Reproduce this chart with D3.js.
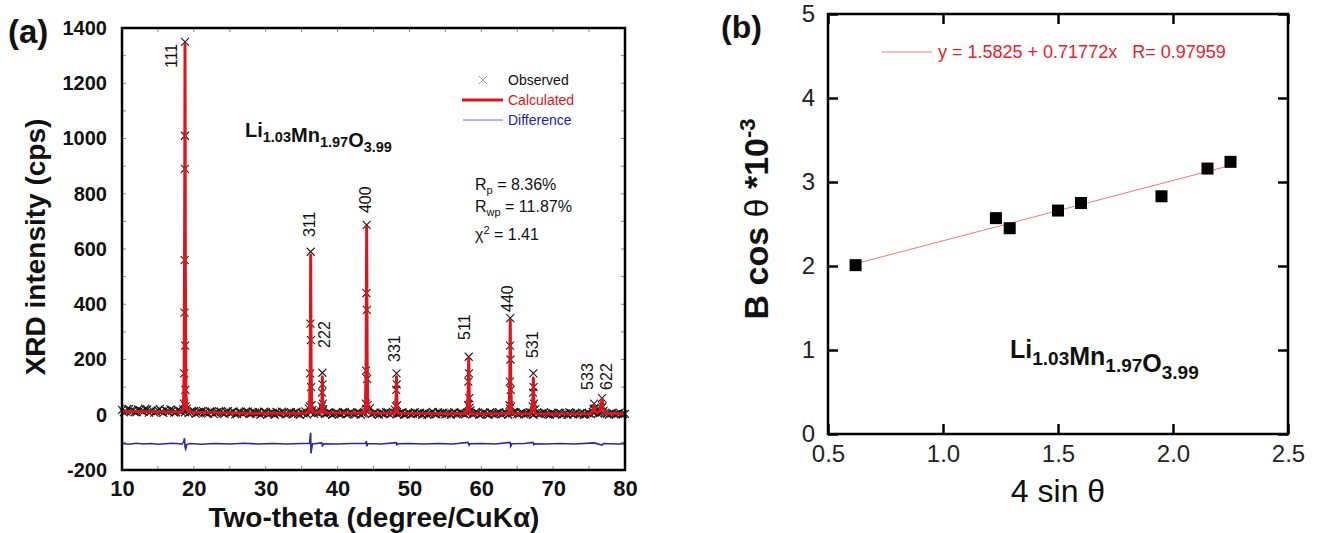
<!DOCTYPE html>
<html>
<head>
<meta charset="utf-8">
<script src="https://cdn.jsdelivr.net/npm/d3@7"></script>
<style>
  body { margin: 0; background: #fff; }
  svg { display: block; }
</style>
</head>
<body>
<div id="chart"></div>
<script>
// ---- panel (a): Rietveld refinement data ----
const obsStart = 10, obsStep = 0.5;
// observed background intensities, one every 0.5 degree from 10 to 80
const obsBase = [
  18, 12, 20, 14, 9, 17, 11, 19, 13, 8,
  16, 12, 18, 10, 15, 9, 14, 20, 22, 10,
  13, 7, 12, 9, 4, 11, 8, 13, 5, 10,
  6, 12, 3, 9, 7, 11, 4, 8, 10, 5,
  9, 3, 7, 10, 4, 8, 2, 9, 6, 3,
  8, 12, 22, 18, 10, 7, 20, 5, 8, 3,
  6, 2, 9, 4, 7, 1, 8, 5, 20, 24,
  6, 3, 8, 2, 7, 5, 18, 4, 9, 1,
  7, 4, 2, 8, 5, 0, 6, 3, 9, 4,
  1, 7, 5, 2, 8, 4, 6, 16, 3, 7,
  2, 8, 0, 5, 3, 9, 4, 6, 22, 10,
  3, 7, 1, 5, 8, 20, 2, 6, 4, 0,
  5, 2, 7, 3, 0, 6, 4, 1, 8, 2,
  5, 10, 16, 6, 14, 3, 4, 2, 5, 1,
  3
];
// second scan pass, offset by a quarter degree (10.25 ... 79.75)
const obsBase2 = [
  9, 21, 15, 10, 19, 13, 22, 8, 16, 11,
  20, 7, 13, 19, 8, 17, 11, 9, 6, 15,
  4, 10, 14, 6, 12, 2, 9, 11, 3, 13,
  8, 1, 10, 5, 12, 2, 9, 6, 0, 11,
  3, 8, 0, 6, 11, 1, 7, 4, 10, 0,
  5, 1, 9, 3, 6, 11, 2, 9, 0, 7,
  3, 10, 1, 8, 2, 9, 0, 6, 11, 2,
  8, 0, 5, 10, 1, 8, 3, 7, 0, 6,
  2, 9, 5, 0, 7, 3, 10, 1, 6, 8,
  4, 0, 9, 3, 6, 1, 8, 2, 10, 0,
  7, 3, 9, 1, 6, 2, 8, 0, 5, 9,
  1, 6, 3, 9, 0, 7, 4, 9, 1, 6,
  2, 8, 0, 5, 9, 1, 7, 3, 0, 6,
  2, 8, 4, 9, 7, 0, 6, 1, 8, 2
];
// observed points on the Bragg peaks [2theta, intensity]
const obsPeaks = [
  [18.62, 40], [18.66, 150], [18.70, 370], [18.72, 560], [18.74, 890], [18.76, 1010], [18.77, 1350], [18.79, 250], [18.82, 90], [18.86, 30],
  [36.14, 30], [36.18, 150], [36.22, 330], [36.26, 590], [36.29, 270], [36.32, 100], [36.38, 35],
  [37.80, 30], [37.84, 80], [37.88, 152], [37.91, 110], [37.95, 40],
  [43.92, 40], [43.97, 160], [44.01, 440], [44.05, 687], [44.08, 380], [44.12, 130], [44.18, 35],
  [48.12, 30], [48.16, 90], [48.20, 150], [48.23, 110], [48.28, 35],
  [58.15, 35], [58.20, 120], [58.25, 210], [58.28, 150], [58.33, 60], [58.38, 25],
  [63.92, 35], [63.97, 120], [64.00, 250], [64.03, 350], [64.06, 200], [64.10, 90], [64.16, 30],
  [67.15, 30], [67.20, 80], [67.25, 150], [67.28, 100], [67.33, 40],
  [75.62, 20], [75.70, 40], [75.78, 22],
  [76.72, 25], [76.80, 60], [76.88, 30]
];
// calculated profile [2theta, intensity]
const calcProfile = [
  [10, 14], [12, 12], [14, 11], [16, 10], [18.4, 10],
  [18.55, 25], [18.65, 160], [18.72, 700], [18.77, 1340], [18.82, 520], [18.9, 80], [19.0, 22], [19.2, 12],
  [20, 9], [25, 6], [30, 5], [35, 5], [36.0, 8],
  [36.12, 40], [36.2, 200], [36.26, 578], [36.32, 180], [36.4, 30], [36.55, 9],
  [37.6, 8], [37.78, 25], [37.84, 70], [37.88, 138], [37.93, 60], [38.0, 15], [38.2, 7],
  [43.7, 5], [43.88, 30], [43.98, 200], [44.05, 680], [44.12, 190], [44.22, 25], [44.4, 6],
  [47.9, 5], [48.08, 22], [48.15, 70], [48.2, 138], [48.25, 60], [48.33, 12], [48.5, 5],
  [57.9, 4], [58.08, 25], [58.18, 90], [58.25, 205], [58.32, 80], [58.42, 15], [58.6, 4],
  [63.7, 4], [63.88, 25], [63.97, 130], [64.03, 343], [64.1, 120], [64.2, 20], [64.4, 4],
  [66.9, 4], [67.08, 20], [67.18, 60], [67.25, 133], [67.32, 55], [67.42, 12], [67.6, 4],
  [70, 3], [75.3, 4], [75.55, 15], [75.7, 35], [75.85, 12], [76.2, 7],
  [76.6, 18], [76.8, 57], [77.0, 15], [77.3, 5], [80, 3]
];
// difference curve (observed - calculated, offset)
const diffProfile = [
  [10, -104], [11, -107], [12, -103], [13, -106], [14, -104], [15, -107], [16, -105], [17, -103],
  [18.4, -106], [18.6, -96], [18.7, -85], [18.78, -118], [18.86, -124], [19.0, -108], [19.5, -104],
  [21, -107], [23, -104], [25, -106], [27, -103], [29, -106], [31, -104], [33, -106], [35, -104],
  [36.1, -103], [36.2, -75], [36.26, -65], [36.3, -140], [36.36, -128], [36.5, -106],
  [37.8, -102], [37.9, -112], [38.1, -105], [40, -106], [42, -104],
  [43.9, -104], [44.0, -95], [44.08, -114], [44.2, -104], [46, -106],
  [48.15, -101], [48.25, -109], [48.4, -105], [50, -104], [52, -106], [54, -104], [56, -106],
  [58.15, -100], [58.3, -110], [58.4, -105], [60, -104], [62, -106],
  [64.0, -100], [64.1, -114], [64.25, -105], [66, -104],
  [67.2, -100], [67.3, -108], [67.45, -105], [69, -106], [71, -104], [73, -106],
  [75.7, -102], [76.8, -110], [77, -104], [79, -106], [80, -105]
];
// hkl labels: [label, 2theta of label centre, intensity at label foot]
const hklLabels = [
  ['111', 16.96, 1255], ['311', 36.16, 643], ['222', 38.25, 242], ['400', 43.95, 730],
  ['331', 47.99, 191], ['511', 57.73, 271], ['440', 63.72, 372], ['531', 67.2, 205],
  ['533', 74.85, 90], ['622', 77.5, 90]
];
const xTicksA = [10, 20, 30, 40, 50, 60, 70, 80];
const yTicksA = [-200, 0, 200, 400, 600, 800, 1000, 1200, 1400];

// ---- panel (b): Williamson-Hall plot ----
const fourSinTheta = [0.62, 1.23, 1.29, 1.50, 1.60, 1.95, 2.15, 2.25];
const bCosTheta = [2.01, 2.57, 2.45, 2.66, 2.75, 2.83, 3.16, 3.24];
const fitIntercept = 1.5825, fitSlope = 0.71772, fitR = 0.97959;
const xTicksB = [0.5, 1.0, 1.5, 2.0, 2.5];
const yTicksB = [0, 1, 2, 3, 4, 5];

const FONT = '"Liberation Sans", Arial, sans-serif';

const svg = d3.select('#chart').append('svg')
  .attr('width', 1319).attr('height', 533)
  .style('font-family', FONT);

function formula(g, x, y, mainSize, subSize, subDy) {
  const parts = [['Li', '1.03'], ['Mn', '1.97'], ['O', '3.99']];
  const t = g.append('text').attr('x', x).attr('y', y)
    .attr('font-weight', 'bold').attr('fill', '#111');
  parts.forEach(([el, n]) => {
    t.append('tspan').attr('font-size', mainSize).attr('dy', 0).text(el);
    t.append('tspan').attr('font-size', subSize).attr('dy', subDy).text(n);
    t.append('tspan').attr('font-size', mainSize).attr('dy', -subDy).text('');
  });
  return t;
}

// ================= panel (a) =================
const xa = d3.scaleLinear().domain([10, 80]).range([122, 625]);
const ya = d3.scaleLinear().domain([-200, 1400]).range([470, 28]);
const ga = svg.append('g');

// minor inside ticks
const minor = ga.append('g').attr('stroke', '#888').attr('stroke-width', 1);
d3.range(-100, 1400, 100).forEach(v => {
  minor.append('line').attr('x1', xa(10)).attr('x2', xa(10) + 4).attr('y1', ya(v)).attr('y2', ya(v));
  minor.append('line').attr('x1', xa(80)).attr('x2', xa(80) - 4).attr('y1', ya(v)).attr('y2', ya(v));
});
d3.range(15, 80, 5).forEach(v => {
  minor.append('line').attr('x1', xa(v)).attr('x2', xa(v)).attr('y1', ya(-200)).attr('y2', ya(-200) - 4);
  minor.append('line').attr('x1', xa(v)).attr('x2', xa(v)).attr('y1', ya(1400)).attr('y2', ya(1400) + 4);
});

// observed markers
const obsPts = obsBase.map((v, i) => [obsStart + i * obsStep, v])
  .concat(obsBase2.map((v, i) => [obsStart + obsStep / 2 + i * obsStep, v]))
  .concat(obsPeaks);
const cross = 'M-4,-4L4,4M-4,4L4,-4';
ga.append('g').selectAll('path').data(obsPts).enter().append('path')
  .attr('d', cross)
  .attr('transform', d => `translate(${xa(d[0])},${ya(d[1])})`)
  .attr('stroke', '#1a1a1a').attr('stroke-width', 1.1).attr('fill', 'none');

// calculated
const lineA = d3.line().x(d => xa(d[0])).y(d => ya(d[1]));
ga.append('path').datum(calcProfile).attr('d', lineA)
  .attr('fill', 'none').attr('stroke', '#e0141c').attr('stroke-width', 3)
  .attr('stroke-linejoin', 'round');
// difference
ga.append('path').datum(diffProfile).attr('d', lineA)
  .attr('fill', 'none').attr('stroke', '#2a2aa8').attr('stroke-width', 1.6);

// frame
ga.append('rect').attr('x', 122).attr('y', 28).attr('width', 503).attr('height', 442)
  .attr('fill', 'none').attr('stroke', '#000').attr('stroke-width', 2.5);

// tick labels
const axYA = ga.append('g').attr('transform', `translate(${xa(10)},0)`)
  .call(d3.axisLeft(ya).tickValues(yTicksA).tickSize(0).tickPadding(15).tickFormat(d => String(d)));
axYA.select('.domain').remove();
axYA.selectAll('text').attr('font-size', 20).attr('font-weight', 'bold').attr('fill', '#111')
  .style('font-family', FONT);
const axXA = ga.append('g').attr('transform', `translate(0,${ya(-200)})`)
  .call(d3.axisBottom(xa).tickValues(xTicksA).tickSize(0).tickPadding(10).tickFormat(d => String(d)));
axXA.select('.domain').remove();
axXA.selectAll('text').attr('font-size', 22).attr('font-weight', 'bold').attr('fill', '#111')
  .style('font-family', FONT);

// axis titles
ga.append('text').attr('transform', 'translate(45,247) rotate(-90)')
  .attr('text-anchor', 'middle').attr('font-size', 28).attr('font-weight', 'bold').attr('fill', '#111')
  .text('XRD intensity (cps)');
ga.append('text').attr('x', 374).attr('y', 527)
  .attr('text-anchor', 'middle').attr('font-size', 28).attr('font-weight', 'bold').attr('fill', '#111')
  .text('Two-theta (degree/CuK\u03b1)');

// panel tag
svg.append('text').attr('x', 8).attr('y', 43).attr('font-size', 33).attr('font-weight', 'bold')
  .attr('fill', '#111').text('(a)');

// hkl labels
ga.append('g').selectAll('text').data(hklLabels).enter().append('text')
  .attr('transform', d => `translate(${xa(d[1]) + 5},${ya(d[2])}) rotate(-90)`)
  .attr('font-size', 16).attr('fill', '#111').text(d => d[0]);

// legend
const lg = ga.append('g');
lg.append('path').attr('d', cross).attr('transform', 'translate(483,80)')
  .attr('stroke', '#999').attr('stroke-width', 1).attr('fill', 'none');
lg.append('line').attr('x1', 462).attr('x2', 503).attr('y1', 100).attr('y2', 100)
  .attr('stroke', '#e0141c').attr('stroke-width', 3);
lg.append('line').attr('x1', 463).attr('x2', 503).attr('y1', 120).attr('y2', 120)
  .attr('stroke', '#7070d8').attr('stroke-width', 1);
[['Observed', '#111', 80], ['Calculated', '#e0141c', 100], ['Difference', '#2020b8', 120]].forEach(([t, c, y]) => {
  lg.append('text').attr('x', 508).attr('y', y + 5).attr('font-size', 14).attr('fill', c).text(t);
});

// composition and fit statistics
formula(ga, 245, 137, 20, 14.5, 5);
const st = ga.append('g').attr('font-size', 16).attr('fill', '#111');
const rp = st.append('text').attr('x', 475).attr('y', 190);
rp.append('tspan').text('R');
rp.append('tspan').attr('font-size', 11).attr('dy', 4).text('p');
rp.append('tspan').attr('dy', -4).text(' = 8.36%');
const rwp = st.append('text').attr('x', 475).attr('y', 212);
rwp.append('tspan').text('R');
rwp.append('tspan').attr('font-size', 11).attr('dy', 4).text('wp');
rwp.append('tspan').attr('dy', -4).text(' = 11.87%');
const chi = st.append('text').attr('x', 475).attr('y', 240);
chi.append('tspan').text('\u03c7');
chi.append('tspan').attr('font-size', 11).attr('dy', -6).text('2');
chi.append('tspan').attr('dy', 6).text(' = 1.41');

// ================= panel (b) =================
const xb = d3.scaleLinear().domain([0.5, 2.5]).range([828, 1288]);
const yb = d3.scaleLinear().domain([0, 5]).range([434, 14]);
const gb = svg.append('g');

// fit line
const fitX = d3.extent(fourSinTheta);
gb.append('line')
  .attr('x1', xb(fitX[0])).attr('y1', yb(fitIntercept + fitSlope * fitX[0]))
  .attr('x2', xb(fitX[1])).attr('y2', yb(fitIntercept + fitSlope * fitX[1]))
  .attr('stroke', '#f07878').attr('stroke-width', 1);

// points
gb.append('g').selectAll('rect').data(fourSinTheta).enter().append('rect')
  .attr('x', d => xb(d) - 6).attr('y', (d, i) => yb(bCosTheta[i]) - 6)
  .attr('width', 12).attr('height', 12).attr('fill', '#000');

// axes
function styleB(sel) {
  sel.select('.domain').remove();
  sel.selectAll('line').attr('stroke', '#000').attr('stroke-width', 2.5);
  sel.selectAll('text').attr('font-size', 24).attr('fill', '#222').style('font-family', FONT);
}
gb.append('g').attr('transform', `translate(0,${yb(0)})`)
  .call(d3.axisBottom(xb).tickValues(xTicksB).tickSizeInner(-10).tickSizeOuter(0).tickPadding(11).tickFormat(d3.format('.1f')))
  .call(styleB);
gb.append('g').attr('transform', `translate(0,${yb(5)})`)
  .call(d3.axisTop(xb).tickValues(xTicksB).tickSizeInner(-10).tickSizeOuter(0).tickFormat(''))
  .call(styleB);
gb.append('g').attr('transform', `translate(${xb(0.5)},0)`)
  .call(d3.axisLeft(yb).tickValues(yTicksB).tickSizeInner(-10).tickSizeOuter(0).tickPadding(13).tickFormat(d3.format('d')))
  .call(styleB);
gb.append('g').attr('transform', `translate(${xb(2.5)},0)`)
  .call(d3.axisRight(yb).tickValues(yTicksB).tickSizeInner(-10).tickSizeOuter(0).tickFormat(''))
  .call(styleB);
gb.append('rect').attr('x', 828).attr('y', 14).attr('width', 460).attr('height', 420)
  .attr('fill', 'none').attr('stroke', '#000').attr('stroke-width', 2.5);

// titles
const yt = gb.append('text').attr('transform', 'translate(768,219) rotate(-90)')
  .attr('text-anchor', 'middle').attr('font-size', 34).attr('font-weight', 'bold').attr('fill', '#111');
yt.append('tspan').text('B cos ');
yt.append('tspan').attr('font-weight', 'normal').text('\u03b8');
yt.append('tspan').text(' *10');
yt.append('tspan').attr('font-size', 22).attr('dy', -13).text('-3');
gb.append('text').attr('x', 1058).attr('y', 502).attr('text-anchor', 'middle')
  .attr('font-size', 32).attr('fill', '#111').text('4 sin \u03b8');

svg.append('text').attr('x', 721).attr('y', 38).attr('font-size', 32).attr('font-weight', 'bold')
  .attr('fill', '#111').text('(b)');

// legend
gb.append('line').attr('x1', 882).attr('x2', 932).attr('y1', 52).attr('y2', 52)
  .attr('stroke', '#f07878').attr('stroke-width', 1);
gb.append('text').attr('x', 938).attr('y', 58).attr('font-size', 18).attr('fill', '#e8202a')
  .attr('xml:space', 'preserve').style('white-space', 'pre')
  .text(`y = ${fitIntercept} + ${fitSlope}x   R= ${fitR}`);

formula(gb, 1010, 358, 25, 19, 7);
</script>
</body>
</html>
